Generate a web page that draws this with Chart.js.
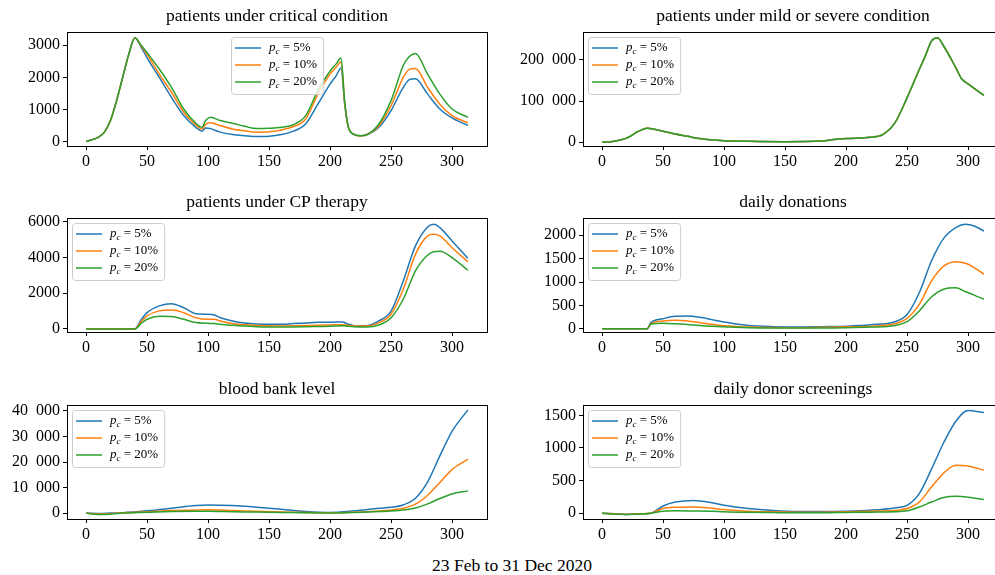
<!DOCTYPE html>
<html>
<head>
<meta charset="utf-8">
<script src="https://cdn.jsdelivr.net/npm/chart.js@4.4.0/dist/chart.umd.min.js"></script>
<style>
  html, body { margin: 0; padding: 0; background: #fff; overflow: hidden; }
  body { width: 995px; height: 575px; position: relative; }
  canvas { position: absolute; }
  #xlabel {
    position: absolute; left: 362px; width: 300px; top: 554px;
    text-align: center; font: 17.5px "Liberation Serif", "DejaVu Serif", serif; line-height: 22px; color: #000;
  }
</style>
</head>
<body>
<div id="xlabel">23 Feb to 31 Dec 2020</div>
<script>
// --- data ---
const titles = [
  'patients under critical condition',
  'patients under mild or severe condition',
  'patients under CP therapy',
  'daily donations',
  'blood bank level',
  'daily donor screenings'
];
const pcLabels = ['5%', '10%', '20%'];
const xTicks = [0, 50, 100, 150, 200, 250, 300];

// critical condition
const days1 = [0, 10, 15, 20, 25, 30, 35, 40, 45, 50, 60, 70, 80, 90, 95, 98, 102, 110, 120, 130, 140, 150, 160, 170, 180, 190, 200, 205, 209, 212, 215, 220, 225, 230, 240, 250, 260, 265, 270, 280, 290, 300, 313];
const crit5  = [10, 140, 300, 660, 1280, 2000, 2720, 3230, 2950, 2610, 2000, 1380, 815, 450, 330, 430, 410, 300, 225, 190, 165, 175, 225, 330, 555, 1170, 1790, 2050, 2290, 1170, 450, 225, 190, 220, 450, 970, 1690, 1930, 1960, 1480, 1020, 740, 505];
const crit10 = [10, 140, 300, 660, 1280, 2000, 2720, 3230, 2990, 2720, 2100, 1540, 920, 525, 400, 540, 590, 505, 400, 340, 300, 310, 370, 475, 710, 1480, 2100, 2320, 2480, 1200, 450, 225, 190, 220, 500, 1120, 2000, 2250, 2280, 1690, 1170, 815, 590];
const crit20 = [10, 140, 300, 660, 1280, 2000, 2720, 3230, 3010, 2770, 2260, 1690, 1020, 575, 450, 660, 760, 660, 575, 480, 410, 420, 450, 535, 815, 1590, 2200, 2420, 2600, 1250, 460, 225, 190, 220, 555, 1280, 2370, 2650, 2740, 2100, 1480, 1020, 760];

// mild or severe condition (the three runs overlap)
const days2 = [0, 10, 20, 30, 37, 45, 50, 60, 70, 80, 90, 100, 120, 150, 180, 190, 200, 220, 230, 240, 250, 260, 265, 270, 275, 280, 290, 295, 300, 313];
const mild5  = [0, 2500, 10000, 27000, 34000, 30000, 27000, 20000, 14600, 9000, 5700, 4000, 2500, 1600, 3200, 6500, 9000, 12000, 18700, 47000, 108000, 177000, 210000, 246000, 254000, 234000, 181000, 153000, 142000, 114000];
const mild10 = mild5;
const mild20 = mild5;

// CP therapy
const days3 = [0, 10, 20, 30, 40, 45, 50, 60, 70, 80, 90, 100, 105, 110, 120, 130, 140, 150, 160, 170, 180, 190, 200, 210, 215, 220, 230, 240, 250, 260, 270, 280, 285, 290, 300, 313];
const cp5  = [0, 0, 0, 0, 0, 500, 910, 1290, 1415, 1190, 855, 820, 780, 630, 450, 335, 280, 260, 260, 300, 335, 370, 375, 390, 260, 185, 185, 450, 1000, 2680, 4640, 5700, 5850, 5660, 4920, 3950];
const cp10 = [0, 0, 0, 0, 0, 400, 730, 1010, 1060, 910, 630, 540, 540, 450, 300, 240, 190, 175, 170, 175, 190, 210, 225, 240, 200, 170, 170, 355, 820, 2215, 4170, 5200, 5290, 5200, 4540, 3760];
const cp20 = [0, 0, 0, 0, 0, 300, 540, 710, 690, 540, 355, 315, 300, 260, 205, 160, 130, 115, 110, 115, 130, 140, 150, 185, 150, 130, 110, 225, 630, 1660, 3240, 4130, 4320, 4340, 3990, 3280];

// daily donations
const days4 = [0, 10, 20, 30, 37, 40, 50, 60, 70, 80, 90, 100, 110, 120, 140, 160, 180, 200, 220, 240, 250, 260, 270, 280, 290, 298, 305, 313];
const don5  = [0, 0, 0, 0, 0, 130, 215, 265, 270, 245, 195, 145, 100, 70, 45, 35, 45, 55, 85, 150, 305, 770, 1450, 1935, 2165, 2235, 2200, 2090];
const don10 = [0, 0, 0, 0, 0, 105, 165, 180, 165, 130, 95, 65, 48, 35, 25, 20, 30, 40, 55, 105, 220, 520, 1020, 1340, 1435, 1400, 1310, 1165];
const don20 = [0, 0, 0, 0, 0, 95, 115, 105, 90, 70, 55, 45, 30, 20, 15, 15, 15, 20, 35, 70, 150, 380, 680, 845, 875, 790, 720, 630];

// blood bank level
const days5 = [0, 10, 20, 30, 50, 70, 90, 100, 120, 140, 160, 180, 200, 220, 240, 250, 260, 270, 280, 290, 300, 313];
const bank5  = [0, -100, 0, 150, 900, 1900, 2950, 3200, 2950, 2300, 1540, 640, 250, 900, 1900, 2300, 3200, 5800, 12200, 22400, 32000, 40400];
const bank10 = [0, -300, -200, 100, 500, 1000, 1250, 1300, 1000, 700, 400, 200, 100, 300, 800, 1200, 1900, 3500, 7000, 12000, 17000, 21100];
const bank20 = [0, -500, -400, 0, 300, 600, 700, 700, 550, 400, 250, 100, 50, 250, 600, 800, 1200, 2000, 3600, 5700, 7500, 8700];

// daily donor screenings
const days6 = [0, 10, 20, 30, 40, 50, 60, 75, 90, 100, 120, 140, 160, 180, 200, 220, 240, 250, 260, 270, 280, 290, 300, 313];
const scr5  = [0, -10, -20, -10, 0, 110, 170, 195, 160, 120, 70, 40, 25, 25, 30, 45, 80, 120, 300, 675, 1080, 1410, 1575, 1545];
const scr10 = [0, -10, -20, -10, 0, 70, 90, 95, 75, 55, 30, 20, 15, 15, 20, 30, 40, 70, 170, 400, 615, 735, 725, 660];
const scr20 = [0, -15, -20, -15, 0, 30, 35, 32, 28, 20, 12, 8, 5, 5, 10, 15, 20, 35, 95, 170, 240, 258, 245, 210];

// --- styling ---
const FONT = '"Liberation Serif", "DejaVu Serif", "Times New Roman", serif';
const colors = ['#1f77b4', '#ff7f0e', '#2ca02c'];
const rowTop = [32, 218, 405];
const rowBottom = [146, 332, 519];

Chart.defaults.font.family = FONT;
Chart.defaults.color = '#000';

function fmtTick(v) {
  // thousands grouped with a figure space, as in the reference
  if (Math.abs(v) >= 10000) return String(v).replace(/\B(?=(\d{3})+(?!\d))/g, '\u2002');
  return String(v);
}

// box around the axes (matplotlib spines)
const framePlugin = {
  id: 'frame',
  afterDraw(chart) {
    const a = chart.chartArea, ctx = chart.ctx;
    ctx.save();
    ctx.strokeStyle = '#000';
    ctx.lineWidth = 1;
    ctx.strokeRect(Math.round(a.left) + 0.5, Math.round(a.top) + 0.5,
                   Math.round(a.right - a.left), Math.round(a.bottom - a.top));
    ctx.restore();
  }
};

// legend with p_c subscript
const pcLegend = {
  id: 'pcLegend',
  afterDatasetsDraw(chart, args, opts) {
    const ctx = chart.ctx, a = chart.chartArea;
    const big = '13px ' + FONT, bigIt = 'italic 13px ' + FONT, small = 'italic 9px ' + FONT;
    ctx.save();
    let maxW = 0;
    const parts = pcLabels.map(lbl => {
      ctx.font = bigIt; const wp = ctx.measureText('p').width;
      ctx.font = small; const wc = ctx.measureText('c').width;
      ctx.font = big; const wr = ctx.measureText(' = ' + lbl).width;
      maxW = Math.max(maxW, wp + wc + wr);
      return { lbl, wp, wc };
    });
    const w = 4 + 26 + 8 + maxW + 6, h = 57;
    const x0 = opts.align === 'center' ? Math.round((a.left + a.right) / 2 - w / 2) : Math.round(a.left + 5);
    const y0 = Math.round(a.top + 5);
    ctx.beginPath();
    ctx.roundRect(x0 + 0.5, y0 + 0.5, w, h, 3);
    ctx.fillStyle = 'rgba(255,255,255,0.8)';
    ctx.fill();
    ctx.strokeStyle = '#cccccc';
    ctx.lineWidth = 1;
    ctx.stroke();
    parts.forEach((p, i) => {
      const yc = y0 + 11 + i * 17;
      ctx.beginPath();
      ctx.moveTo(x0 + 4, yc);
      ctx.lineTo(x0 + 30, yc);
      ctx.strokeStyle = colors[i];
      ctx.lineWidth = 1.5;
      ctx.stroke();
      ctx.fillStyle = '#000';
      ctx.textBaseline = 'middle';
      let tx = x0 + 38;
      ctx.font = bigIt; ctx.fillText('p', tx, yc); tx += p.wp;
      ctx.font = small; ctx.fillText('c', tx, yc + 4); tx += p.wc;
      ctx.font = big; ctx.fillText(' = ' + p.lbl, tx, yc);
    });
    ctx.restore();
  }
};

const panels = [
  { title: titles[0], days: days1, series: [crit5, crit10, crit20], yMin: -130, yMax: 3410, yTicks: [0, 1000, 2000, 3000], legend: 'center', col: 0, row: 0 },
  { title: titles[1], days: days2, series: [mild5, mild10, mild20], yMin: -9000, yMax: 268000, yTicks: [0, 100000, 200000], legend: 'left', col: 1, row: 0 },
  { title: titles[2], days: days3, series: [cp5, cp10, cp20], yMin: -170, yMax: 6200, yTicks: [0, 2000, 4000, 6000], legend: 'left', col: 0, row: 1 },
  { title: titles[3], days: days4, series: [don5, don10, don20], yMin: -70, yMax: 2370, yTicks: [0, 500, 1000, 1500, 2000], legend: 'left', col: 1, row: 1 },
  { title: titles[4], days: days5, series: [bank5, bank10, bank20], yMin: -2300, yMax: 42300, yTicks: [0, 10000, 20000, 30000, 40000], legend: 'left', col: 0, row: 2 },
  { title: titles[5], days: days6, series: [scr5, scr10, scr20], yMin: -90, yMax: 1660, yTicks: [0, 500, 1000, 1500], legend: 'left', col: 1, row: 2 }
];

panels.forEach(p => {
  const left = p.col === 0 ? 0 : 500;
  const width = p.col === 0 ? 495 : 510;
  const yw = p.col === 0 ? 67 : 83;
  const padR = p.col === 0 ? 8 : 7;
  const T = rowTop[p.row], B = rowBottom[p.row];
  const top = T - 26;
  const height = (B - T) + 26 + 30;

  const cv = document.createElement('canvas');
  cv.width = width; cv.height = height;
  cv.style.left = left + 'px'; cv.style.top = top + 'px';
  cv.style.width = width + 'px'; cv.style.height = height + 'px';
  document.body.appendChild(cv);

  new Chart(cv, {
    type: 'line',
    data: {
      datasets: p.series.map((vals, i) => ({
        label: 'p_c = ' + pcLabels[i],
        data: p.days.map((d, j) => ({ x: d, y: vals[j] })),
        borderColor: colors[i],
        borderWidth: 1.5,
        pointRadius: 0,
        cubicInterpolationMode: 'monotone',
        fill: false,
        order: 2 - i // later series drawn on top, as matplotlib does
      }))
    },
    options: {
      responsive: false,
      animation: false,
      layout: { padding: { left: 0, right: padR, top: 0, bottom: 0 } },
      plugins: {
        legend: { display: false },
        tooltip: { enabled: false },
        title: {
          display: true, text: p.title, fullSize: false, color: '#000',
          font: { family: FONT, size: 17.5, weight: 'normal' },
          padding: { top: 0, bottom: 5 }
        },
        pcLegend: { align: p.legend }
      },
      scales: {
        x: {
          type: 'linear', min: -15.65, max: 328.65,
          afterBuildTicks: s => { s.ticks = xTicks.map(v => ({ value: v })); },
          afterFit: s => { s.height = 30; },
          ticks: { font: { family: FONT, size: 16 }, color: '#000', padding: 2, maxRotation: 0, autoSkip: false, callback: v => String(v) },
          grid: { drawOnChartArea: false, drawTicks: true, tickLength: 4, color: '#000' },
          border: { display: false }
        },
        y: {
          min: p.yMin, max: p.yMax,
          afterBuildTicks: s => { s.ticks = p.yTicks.map(v => ({ value: v })); },
          afterFit: s => { s.width = yw; },
          ticks: { font: { family: FONT, size: 16 }, color: '#000', padding: 3, autoSkip: false, callback: v => fmtTick(v) },
          grid: { drawOnChartArea: false, drawTicks: true, tickLength: 4, color: '#000' },
          border: { display: false }
        }
      }
    },
    plugins: [framePlugin, pcLegend]
  });
});
</script>
</body>
</html>
